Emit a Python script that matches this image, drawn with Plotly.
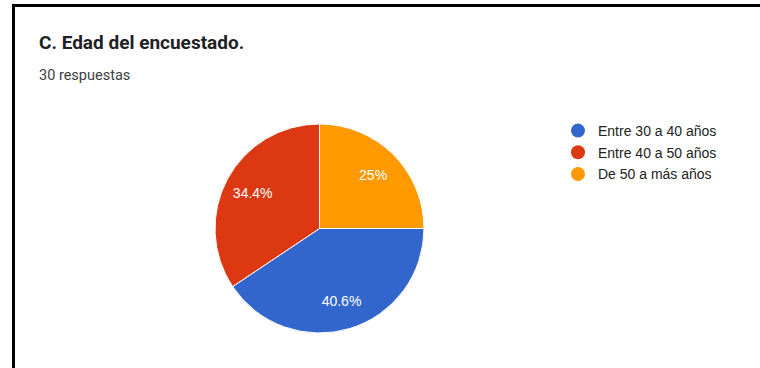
import plotly.graph_objects as go

categories = ["Entre 30 a 40 años", "Entre 40 a 50 años", "De 50 a más años"]
counts = [13, 11, 8]
colors = ["#3366cc", "#dc3912", "#ff9900"]
title_text = "C. Edad del encuestado."
subtitle_text = "30 respuestas"

W, H = 760, 368

fig = go.Figure()

cx, cy, r = 319.5, 228.5, 104.5
dom = dict(x=[(cx - r) / W, (cx + r) / W], y=[1 - (cy + r) / H, 1 - (cy - r) / H])

# Visible pie (no text)
fig.add_trace(go.Pie(
    labels=categories,
    values=counts,
    marker=dict(colors=colors, line=dict(color="white", width=1)),
    sort=False,
    direction="clockwise",
    rotation=90,
    textinfo="none",
    showlegend=False,
    hoverinfo="label+percent",
    domain=dom,
))

# Transparent donut overlay carrying the percentage labels further out
fig.add_trace(go.Pie(
    labels=categories,
    values=counts,
    marker=dict(colors=["rgba(0,0,0,0)"] * 3, line=dict(width=0)),
    sort=False,
    direction="clockwise",
    rotation=90,
    hole=0.45,
    texttemplate="%{percent:.1~%}",
    textposition="inside",
    insidetextorientation="horizontal",
    textfont=dict(color="white", size=14, family="Liberation Sans, Arial"),
    showlegend=False,
    hoverinfo="skip",
    domain=dom,
))

for i, (lab, col) in enumerate(zip(categories, colors)):
    fig.add_trace(go.Scatter(
        x=[None], y=[None], mode="markers", name=lab,
        marker=dict(color=col, size=14, symbol="circle"),
        legendgroup=f"g{i}", showlegend=True,
    ))

fig.update_layout(
    width=W, height=H,
    margin=dict(l=0, r=0, t=0, b=0),
    paper_bgcolor="white", plot_bgcolor="white",
    xaxis=dict(visible=False), yaxis=dict(visible=False),
    legend=dict(
        x=(598 - 40) / W, xanchor="left",
        y=1 - 115 / H, yanchor="top",
        font=dict(size=14, color="#222222", family="Liberation Sans, Arial"),
        tracegroupgap=0.5,
        bgcolor="rgba(0,0,0,0)",
    ),
    annotations=[
        dict(text=f"<b>{title_text}</b>", x=37 / W, y=1 - 42.5 / H, xref="paper", yref="paper",
             xanchor="left", yanchor="middle", showarrow=False,
             font=dict(size=19, color="#202124", family="Roboto")),
        dict(text=subtitle_text, x=37 / W, y=1 - 75.5 / H, xref="paper", yref="paper",
             xanchor="left", yanchor="middle", showarrow=False,
             font=dict(size=14.5, color="#3c4043", family="Roboto")),
    ],
    shapes=[
        dict(type="rect", xref="paper", yref="paper",
             x0=13.5 / W, x1=780 / W, y0=-20 / H, y1=1 - 5.5 / H,
             line=dict(color="black", width=3), fillcolor="rgba(0,0,0,0)"),
    ],
)

fig.write_html("out.html")
